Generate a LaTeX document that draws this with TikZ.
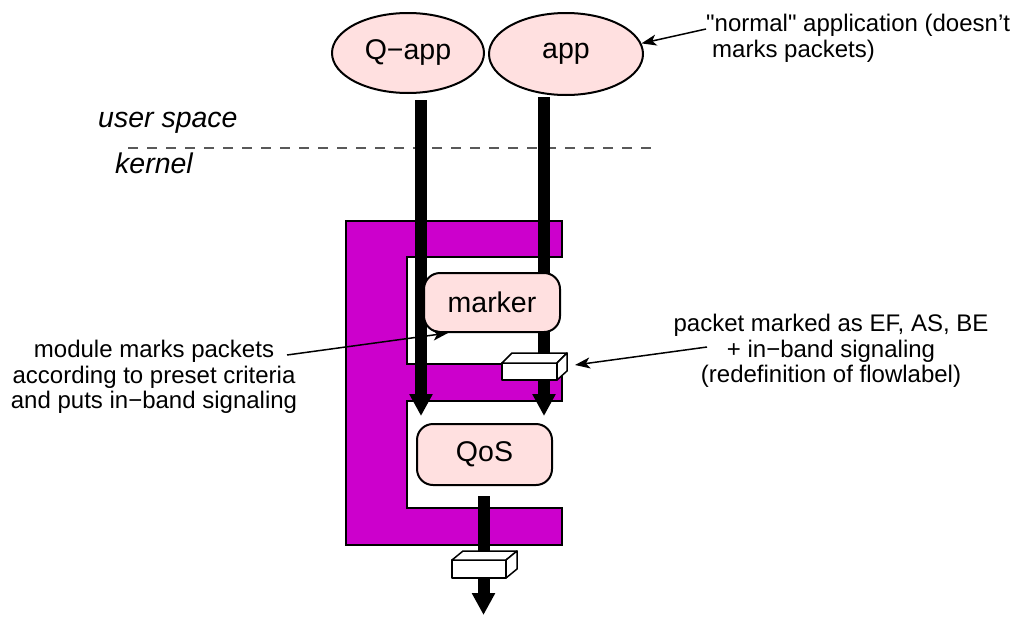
\documentclass[tikz,border=0pt]{standalone}
\usepackage{fontspec}
\setmainfont{Liberation Sans}[Ligatures=TeXOff]
\usetikzlibrary{arrows.meta,shapes.geometric}
\definecolor{mag}{RGB}{204,0,204}
\definecolor{pinkfill}{RGB}{255,224,224}
\begin{document}
\begin{tikzpicture}[x=1pt,y=-1pt,
  outl/.style={line width=2pt, draw=black},
  big/.style={font=\fontsize{28.5}{30}\selectfont},
  bigit/.style={font=\fontsize{28.5}{30}\selectfont\itshape, inner sep=0pt},
  note/.style={font=\fontsize{24}{25.5}\selectfont, align=center, inner sep=0pt},
  flow/.style={line width=12pt, -{Triangle[width=22pt,length=22pt]}},
  thinarrow/.style={line width=1.5pt, -{Stealth[length=15pt,width=11pt,inset=4pt]}},
  appnode/.style={ellipse, outl, fill=pinkfill, big, inner sep=0pt},
  modnode/.style={rectangle, rounded corners=16pt, outl, fill=pinkfill, big, inner sep=0pt},
  pkt/.style={line width=1.5pt, draw=black, fill=white, line join=round},
  sep/.style={line width=1.5pt, draw=black!65, dash pattern=on 9.5pt off 9.5pt}
]
\useasboundingbox (0,0) rectangle (1011,616);

% E-shaped frame
\draw[outl, fill=mag] (346,221) -- (562,221) -- (562,257) -- (407,257) -- (407,364)
  -- (562,364) -- (562,401) -- (407,401) -- (407,508) -- (562,508) -- (562,545)
  -- (346,545) -- cycle;

% user/kernel separator
\coordinate (ds) at (128,148);
\coordinate (de) at (657,148);
\draw[sep] (ds) -- (de);

% thick flows
\coordinate (s1) at (421,100); \coordinate (e1) at (421,416);
\coordinate (s2) at (544,97);  \coordinate (e2) at (544,416);
\draw[flow] (s1) -- (e1);
\draw[flow] (s2) -- (e2);

% marker module
\node[modnode, minimum width=136pt, minimum height=59pt] (mk) at (492,302.5) {marker};

% packet 1
\draw[pkt] (502,363) rectangle (557,380);
\draw[pkt] (502,363) -- (512,353) -- (567,353) -- (557,363) -- cycle;
\draw[pkt] (557,363) -- (567,353) -- (567,371) -- (557,380) -- cycle;
\coordinate (pk1) at (575,365);

% QoS module
\node[modnode, minimum width=135pt, minimum height=61pt] (qos) at (484.5,454.5) {QoS};

% output flow
\coordinate (s3) at (483.5,496); \coordinate (e3) at (483.5,615);
\draw[flow] (s3) -- (e3);

% packet 2
\draw[pkt] (452,560) rectangle (506,578);
\draw[pkt] (452,560) -- (463,551) -- (517,551) -- (506,560) -- cycle;
\draw[pkt] (506,560) -- (517,551) -- (517,569) -- (506,578) -- cycle;

% applications
\node[appnode, minimum width=152pt, minimum height=80pt] (qa) at (408,53) {Q−app};
\node[appnode, minimum width=154pt, minimum height=82pt] (ap) at (566,54) {app};

% space labels
\node[bigit, anchor=base west] (us) at (98,127) {user space};
\node[bigit, anchor=base west] (kn) at (115,173) {kernel};

% annotations
\node[note, anchor=north west, align=left] (tn) at (706,14)
  {"normal" application (doesn’t\\\hspace*{6pt}marks packets)};
\coordinate (tnl) at (706,29);
\draw[thinarrow] (tnl) -- (ap.8);

\node[note] (ln) at (154,377)
  {module marks packets\\according to preset criteria\\and puts in−band signaling};
\coordinate (lnl) at (287,355);
\coordinate (mkp) at (448,333);
\draw[thinarrow] (lnl) -- (mkp);

\node[note] (rn) at (831,351)
  {packet marked as EF, AS, BE\\+ in−band signaling\\(redefinition of flowlabel)};
\coordinate (rnl) at (707,347);
\draw[thinarrow] (rnl) -- (pk1);
\end{tikzpicture}
\end{document}
